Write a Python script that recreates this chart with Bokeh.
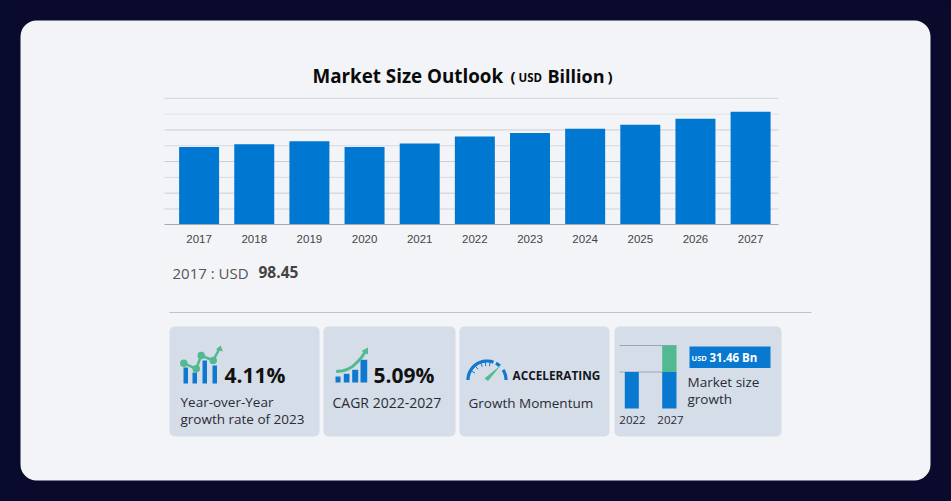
from bokeh.embed import file_html
from bokeh.resources import INLINE
from bokeh.plotting import figure
from bokeh.models import (BoxAnnotation, FixedTicker, LinearAxis, Range1d)
from bokeh.core.properties import value
import numpy as np

# ---- chart data ----
years = [2017, 2018, 2019, 2020, 2021, 2022, 2023, 2024, 2025, 2026, 2027]
market_size = [98.45, 102.0, 105.8, 98.5, 103.0, 111.6, 116.2, 121.6, 126.6, 134.0, 143.06]
grid_values = [20, 40, 60, 80, 100, 120, 140, 160]
grid_colors = ["#d2d2d6", "#cfcfd3", "#dcdce0", "#cdcdd1", "#d8d8dc", "#cdcdd1", "#e2e2e6", "#d4d4d8"]

WIN_W, WIN_H = 951, 501
FONT = "Open Sans"

# plain page-pixel coordinates for decoration (cards, icons, text positions)
p = figure(width=WIN_W, height=WIN_H,
           x_range=Range1d(0, WIN_W), y_range=Range1d(WIN_H, 0),
           toolbar_location=None, output_backend="svg", min_border=0,
           background_fill_color="#090a2c", border_fill_color="#090a2c",
           outline_line_color=None)
p.xaxis.visible = False
p.yaxis.visible = False
p.xgrid.visible = False
p.ygrid.visible = False

# scales of the bar chart
px_per_year, x_2017 = 55.15, 198.6
usd_per_px, base_px = 1.265, 224.3
p.extra_x_ranges["years"] = Range1d(2017 + (0 - x_2017) / px_per_year,
                                    2017 + (WIN_W - x_2017) / px_per_year)
p.extra_y_ranges["usd"] = Range1d((base_px - WIN_H) * usd_per_px, base_px * usd_per_px)

def box(l, t, r, b, color, radius=0, line=None):
    p.add_layout(BoxAnnotation(left=l, right=r, top=t, bottom=b, fill_color=color, fill_alpha=1,
                               line_color=line, border_radius=radius, level="underlay"))

def txt(x, y, s, size, color="#222222", bold=False, font=FONT, align="left"):
    p.text([x], [y - 1], text=[s], text_font=value(font), text_font_size=f"{size}px",
           text_color=color, text_font_style="bold" if bold else "normal",
           text_baseline="middle", text_align=align)

# card and panels
box(20, 20, 930, 480, "#f3f4f7", 16)
for l, r in [(169, 319), (323, 455), (459, 609), (614, 781)]:
    box(l, 326, r, 436, "#d5dde9", 5)
p.segment([169], [312], [811], [312], line_color="#bcc1d6", line_width=1)

# title
txt(312, 76, "Market Size Outlook", 18.8, "#0a0a0a", True)
txt(510, 76, "(", 15, "#0a0a0a", True)
txt(518, 78, "USD", 11.5, "#0a0a0a", True)
txt(547, 76, "Billion", 18, "#0a0a0a", True)
txt(607, 76, ")", 15, "#0a0a0a", True)

# gridlines and bars
grid_x0 = 2017 + (164 - x_2017) / px_per_year
grid_x1 = 2017 + (778 - x_2017) / px_per_year
p.segment([grid_x0] * len(grid_values), grid_values, [grid_x1] * len(grid_values), grid_values,
          line_color=grid_colors, line_width=1, x_range_name="years", y_range_name="usd")
p.vbar(x=years, top=market_size, bottom=0, width=0.725, fill_color="#0077d0",
       line_color=None, x_range_name="years", y_range_name="usd")

axis = LinearAxis(x_range_name="years", fixed_location=base_px,
                  ticker=FixedTicker(ticks=years), bounds=(grid_x0, grid_x1))
axis.axis_line_color = "#a9a9ad"
axis.major_tick_line_color = None
axis.minor_tick_line_color = None
axis.major_label_standoff = 4
axis.major_label_text_font = "Liberation Sans"
axis.major_label_text_font_size = "11.5px"
axis.major_label_text_color = "#444444"
axis.major_label_overrides = {y: str(y) for y in years}
p.add_layout(axis, "below")

# first value
txt(172, 273, "2017 : USD", 15, "#555555")
txt(258, 272.5, "98.45", 15.5, "#444444", True)

# ---- metric cards ----
BLUE, GREEN = "#0f78cf", "#52b990"
ink = "#2b2b33"

# card 1
p.quad(left=[183, 192, 202, 212], right=[187.5, 196.5, 206.5, 216.5],
       top=[367, 372, 360, 365], bottom=[383] * 4, fill_color=BLUE, line_color=None)
lx, ly = [183.3, 195.7, 200.7, 212.7, 219], [362.7, 368.3, 355, 360, 348]
p.line(lx, ly, line_color=GREEN, line_width=2.5)
p.scatter(lx[:4], ly[:4], size=7.5, fill_color=GREEN, line_color=None)
p.patch([215.5, 220, 222.5], [349, 345, 351], fill_color=GREEN, line_color=None)
txt(224, 375, "4.11%", 21, "#111111", True)
txt(180, 402, "Year-over-Year", 13.5, ink)
txt(180, 419, "growth rate of 2023", 13.5, ink)

# card 2
p.quad(left=[335, 343.3, 351.7, 360], right=[340, 349, 357.7, 366.7],
       top=[376, 373.3, 369.3, 359.3], bottom=[382] * 4, fill_color=BLUE, line_color=None)
p.line([335.7, 341, 346.7, 352, 356.7, 361, 364.5], [371, 370.6, 369, 366, 361.7, 357, 351.5],
       line_color=GREEN, line_width=3)
p.patch([361, 367.5, 367.5], [350.5, 347, 354], fill_color=GREEN, line_color=None)
txt(373, 375, "5.09%", 21, "#111111", True)
txt(332, 403, "CAGR 2022-2027", 14, ink)

# card 3: gauge
cx, cy, rad = 486.5, 379.5, 19
for a0, a1 in [(180, 70), (62, 48), (32, 0)]:
    ang = np.radians(np.linspace(a0, a1, 30))
    p.line(cx + rad * np.cos(ang), cy - rad * np.sin(ang), line_color=BLUE, line_width=3.2)
tick_ang = np.radians([150, 130, 110, 95, 80])
p.segment(cx + (rad - 1) * np.cos(tick_ang), cy - (rad - 1) * np.sin(tick_ang),
          cx + (rad - 5) * np.cos(tick_ang), cy - (rad - 5) * np.sin(tick_ang),
          line_color=BLUE, line_width=1)
p.patch([484, 487.5, 500.5], [378, 380.5, 364.5], fill_color=GREEN, line_color=None)
txt(512, 375, "ACCELERATING", 11.8, "#15151c", True)
txt(468, 403, "Growth Momentum", 13.5, ink)

# card 4: schematic growth bars
p.segment([619, 619], [345, 371.5], [676, 676], [345, 371.5], line_color="#9aa6b6", line_width=1)
p.quad(left=[624.3, 661.7], right=[638.3, 676], top=[371.5, 371.5], bottom=[408, 408],
       fill_color="#0878d0", line_color=None)
p.quad(left=[661.7], right=[676], top=[345], bottom=[371.5], fill_color=GREEN, line_color=None)
txt(632, 420, "2022", 11.5, ink, align="center")
txt(670, 420, "2027", 11.5, ink, align="center")
p.quad(left=[689], right=[770], top=[346], bottom=[367.5], fill_color="#0878d0", line_color=None)
txt(691, 358.5, "USD", 7.5, "#ffffff", True)
txt(709, 358, "31.46 Bn", 11.5, "#ffffff", True)
txt(687, 382, "Market size", 13.5, ink)
txt(687, 399, "growth", 13.5, ink)

html = file_html(p, INLINE)
html = html.replace("</head>", "<style>html,body{background:#090a2c;overflow:hidden}</style></head>", 1)
open("out.html", "w").write(html)
